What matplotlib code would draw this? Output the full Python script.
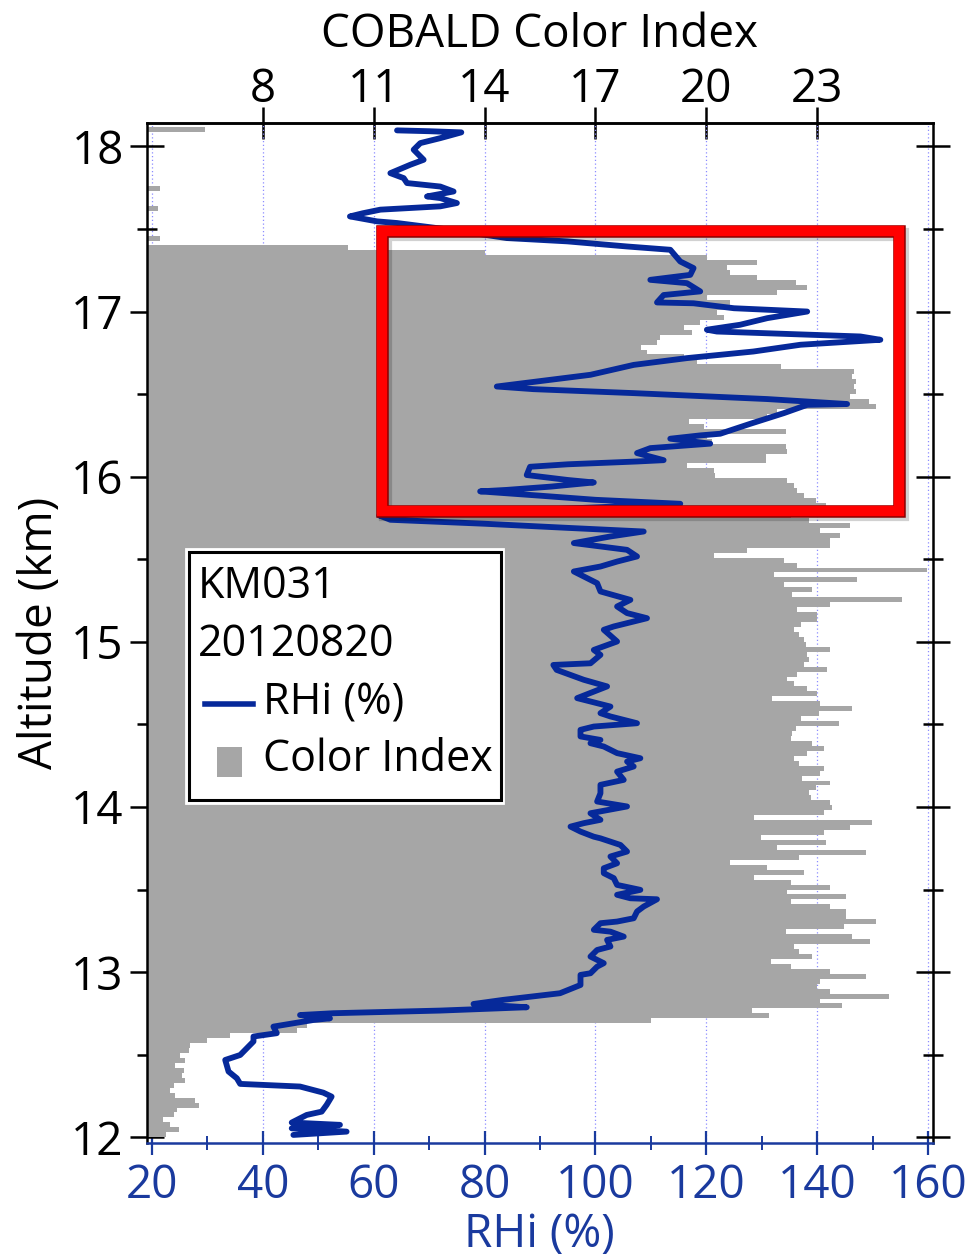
import numpy as np
import matplotlib
matplotlib.use('Agg')
import matplotlib.pyplot as plt
from matplotlib.patches import Rectangle
from matplotlib.lines import Line2D
import matplotlib.patheffects as pe

plt.rcParams['font.family'] = ['Open Sans', 'DejaVu Sans']

# COBALD colour index, 30 m bins starting at 12.00 km (nan = no bar)
ci_alt = np.round(np.arange(12.0, 18.1, 0.03), 2)
ci_val = np.array([
    5.39, 5.72, 5.48, 5.30, 5.59, 5.68, 6.26, 6.17, 5.63, 5.48,
    5.59, 5.90, 5.81, 5.86, 5.63, 5.90, 5.75, 5.99, 6.04, 6.49,
    7.12, 8.92, 9.19, 18.5, 21.70, 21.23, 23.68, 23.09, 24.94, 23.36,
    23.0, 23.09, 24.31, 23.36, 22.28, 21.74, 22.87, 22.51, 22.37, 24.44,
    23.95, 22.15, 23.72, 24.58, 23.77, 23.77, 23.36, 22.28, 23.77, 22.19,
    23.36, 22.28, 21.28, 22.64, 21.65, 20.65, 22.51, 24.31, 21.92, 23.23,
    21.47, 23.18, 23.9, 24.49, 21.28, 23.18, 23.41, 23.36, 22.82, 22.78,
    22.96, 23.36, 22.60, 23.09, 23.18, 22.51, 22.37, 22.73, 23.18, 22.87,
    22.28, 22.33, 22.42, 23.59, 22.55, 23.05, 23.95, 23.09, 21.79, 23.0,
    22.73, 22.37, 22.19, 22.46, 23.27, 22.64, 22.78, 22.73, 23.36, 22.69,
    22.64, 22.51, 22.37, 22.55, 23.0, 23.0, 22.46, 23.36, 25.30, 22.33,
    22.87, 22.1, 24.08, 21.83, 25.97, 22.46, 22.1, 20.20, 21.10, 23.36,
    23.36, 23.63, 23.09, 23.9, 22.78, 22.28, 23.0, 23.23, 22.96, 22.64,
    22.46, 22.37, 22.19, 20.24, 20.20, 19.48, 21.61, 21.61, 22.19, 22.15,
    20.15, 20.02, 22.15, 19.93, 19.52, 21.65, 21.92, 24.58, 24.40, 23.9,
    24.04, 23.99, 24.04, 23.95, 23.99, 22.01, 19.75, 19.39, 18.40, 18.22,
    18.67, 18.76, 19.61, 19.39, 19.84, 20.47, 20.29, 20.65, 20.65, 20.02,
    21.92, 22.73, 22.42, 21.38, 20.65, 20.56, 21.38, 20.02, 14.0, 10.3,
    np.nan, 5.21, np.nan, np.nan, np.nan, np.nan, np.nan, 5.17, np.nan, np.nan,
    np.nan, 5.21, np.nan, np.nan, np.nan, np.nan, np.nan, np.nan, np.nan, np.nan,
    np.nan, np.nan, np.nan, 6.44])

# RHi profile (%), ordered along the ascent
rhi = [45.5, 55.1, 45.2, 53.9, 45.2, 47.9, 50.6, 51.5, 52.4, 50.9,
       46.7, 35.9, 35.3, 33.8, 33.2, 35.0, 35.9, 38.3, 38.3, 42.5,
       41.9, 45.5, 49.1, 52.1, 46.7, 52.7, 72.0, 87.6, 78.0, 83.4, 93.6,
       97.3, 97.3, 99.1, 100.3, 101.5, 99.1, 100.3, 102.7, 102.1, 105.1,
       102.7, 99.7, 100.9, 103.9, 106.9, 107.5, 108.7, 111.1, 106.3, 103.9,
       108.1, 103.9, 103.3, 101.5, 101.5, 103.9, 102.7, 105.7, 104.5, 100.9,
       99.7, 97.3, 95.5, 97.9, 100.9, 99.1, 105.7,
       100.3, 100.9, 100.9, 105.1, 103.9, 106.9, 105.7, 108.1, 103.9, 101.5,
       99.1, 100.9, 97.3, 97.3, 99.7, 107.5, 102.7, 100.9, 102.7, 96.7,
       102.1, 97.9, 93.0, 92.4, 99.1, 100.9, 99.7, 103.9, 101.5, 103.3,
       109.3, 105.7, 103.9, 106.3, 100.9, 100.3, 96.1, 100.9, 103.9, 107.5,
       105.7, 96.1, 102.7, 108.7, 95.0, 80.0, 63.0, 61.0, 90.0,
       115.3, 100.0, 90.0, 79.2, 84.0, 92.0, 99.7, 95.0, 87.6, 88.2,
       95.0, 107.5, 112.3, 107.5, 109.9, 120.7, 113.5, 118.9, 122.5, 127.9,
       134.0, 138.2, 145.4, 131.0, 106.9, 88.8, 82.2, 99.1, 106.9, 116.5,
       128.5, 137.0, 151.4, 147.8, 121.9, 120.1, 126.1, 131.0, 138.2, 125.0,
       117.7, 111.1, 112.3, 118.9, 116.5, 109.9, 117.1, 117.7, 115.3, 113.5,
       105.7, 94.9, 84.0, 75.0, 64.2, 60.6, 55.7,
       58.0, 61.2, 72.0, 75.0, 72.0, 69.6, 74.4, 72.0, 66.0, 65.4,
       63.0, 66.6, 69.0, 67.2, 68.4, 72.0, 75.8, 70.0, 64.2]
alt = [12.014, 12.034, 12.054, 12.075, 12.089, 12.135, 12.155, 12.196, 12.246, 12.27,
       12.307, 12.323, 12.357, 12.398, 12.468, 12.488, 12.498, 12.58, 12.61, 12.63,
       12.67, 12.69, 12.71, 12.72, 12.74, 12.751, 12.767, 12.787, 12.807, 12.832, 12.872,
       12.922, 12.983, 12.993, 13.033, 13.054, 13.094, 13.134, 13.155, 13.195, 13.215,
       13.245, 13.256, 13.296, 13.306, 13.326, 13.367, 13.397, 13.441, 13.447, 13.468,
       13.498, 13.528, 13.569, 13.599, 13.629, 13.659, 13.70, 13.73, 13.77, 13.81,
       13.82, 13.851, 13.881, 13.902, 13.922, 13.962, 14.003,
       14.033, 14.083, 14.134, 14.164, 14.214, 14.245, 14.275, 14.295, 14.326, 14.366,
       14.386, 14.406, 14.427, 14.467, 14.487, 14.507, 14.548, 14.568, 14.608, 14.659,
       14.73, 14.77, 14.83, 14.86, 14.87, 14.921, 14.951, 15.002, 15.073, 15.093,
       15.143, 15.174, 15.214, 15.254, 15.305, 15.355, 15.426, 15.456, 15.486, 15.517,
       15.557, 15.598, 15.638, 15.668, 15.69, 15.715, 15.739, 15.765, 15.80,
       15.836, 15.86, 15.885, 15.911, 15.92, 15.94, 15.965, 15.98, 16.01, 16.06,
       16.075, 16.092, 16.10, 16.143, 16.173, 16.20, 16.23, 16.25, 16.26, 16.32,
       16.385, 16.435, 16.44, 16.47, 16.506, 16.53, 16.546, 16.617, 16.677, 16.718,
       16.758, 16.799, 16.829, 16.849, 16.879, 16.89, 16.92, 16.96, 17.0, 17.02,
       17.05, 17.055, 17.1, 17.122, 17.172, 17.192, 17.222, 17.263, 17.303, 17.374,
       17.394, 17.425, 17.445, 17.49, 17.536, 17.546, 17.576,
       17.595, 17.617, 17.637, 17.657, 17.687, 17.697, 17.727, 17.757, 17.778, 17.808,
       17.838, 17.889, 17.919, 17.98, 18.02, 18.05, 18.085, 18.092, 18.097]

legend_lines = ['KM031', '20120820']

blue = '#06299a'
tick_blue = '#1a3a9e'
grey = '#a6a6a6'


def rhi_to_ci(r):
    return 8 + (np.asarray(r) - 40) * 0.15


def ci_to_rhi(c):
    return 40 + (np.asarray(c) - 8) / 0.15


fig = plt.figure(figsize=(9.73, 12.58), dpi=100)
ax = fig.add_axes([0.1508, 0.0914, 0.8081, 0.8106])
x0 = 19.04
ax.set_xlim(x0, 160.9)
ax.set_ylim(11.965, 18.14)

# grey colour index bars, drawn in RHi units through the CI <-> RHi mapping
ok = ~np.isnan(ci_val)
ax.barh(ci_alt[ok], ci_to_rhi(ci_val[ok]) - x0, height=0.03, left=x0,
        align='edge', color=grey, linewidth=0, zorder=1)

ax.set_axisbelow(True)
ax.grid(axis='x', color='#8c8cff', linestyle=(0, (1, 2)), linewidth=0.9)

ax.plot(rhi, alt, color=blue, lw=4.2, solid_joinstyle='round',
        solid_capstyle='round', zorder=3)

# red highlight box (outline only, with a soft drop shadow)
box = Rectangle((61.5, 15.793), 154.8 - 61.5, 17.485 - 15.793, fill=False,
                edgecolor='#ff0000', lw=7.5, zorder=5,
                path_effects=[pe.SimpleLineShadow(offset=(2, -2), shadow_color='k',
                                                  alpha=0.18, linewidth=9.5),
                              pe.Stroke(linewidth=9.0, foreground='#8a0000'), pe.Normal()])
ax.add_patch(box)

# axes styling
for s in ['left', 'right', 'top']:
    ax.spines[s].set_linewidth(1.8)
ax.spines['bottom'].set_color(tick_blue)
ax.spines['bottom'].set_linewidth(1.8)

ax.set_xticks(np.arange(20, 161, 20))
ax.set_xticks(np.arange(30, 151, 20), minor=True)
ax.tick_params(axis='x', which='major', direction='inout', length=17, width=1.6,
               colors=tick_blue, labelsize=33, pad=6, top=False)
ax.tick_params(axis='x', which='minor', direction='inout', length=10, width=1.4,
               colors=tick_blue, top=False)
ax.set_xlabel('RHi (%)', fontsize=33, color=tick_blue, labelpad=2)

ax.set_yticks(np.arange(12, 19, 1))
ax.set_yticks(np.arange(12.5, 18, 1), minor=True)
ax.tick_params(axis='y', which='major', direction='inout', length=25, width=1.8,
               labelsize=33, pad=4, right=True)
ax.tick_params(axis='y', which='minor', direction='inout', length=14, width=1.8, right=True)
ax.set_ylabel('Altitude (km)', fontsize=33, labelpad=6)

secax = ax.secondary_xaxis('top', functions=(rhi_to_ci, ci_to_rhi))
secax.set_xticks([8, 11, 14, 17, 20, 23])
secax.tick_params(direction='inout', length=23, width=1.8, labelsize=33, pad=-4)
secax.spines['top'].set_linewidth(1.8)
secax.set_xlabel('COBALD Color Index', fontsize=33, labelpad=14)

# legend box
ax.add_patch(Rectangle((0.0505, 0.3335), 0.4032, 0.249, transform=ax.transAxes,
                       facecolor='white', edgecolor='white', lw=2, zorder=6))
ax.add_patch(Rectangle((0.0538, 0.3364), 0.3968, 0.2432, transform=ax.transAxes,
                       facecolor='white', edgecolor='black', lw=2.2, zorder=7))
ax.text(0.0653, 0.5453, legend_lines[0], transform=ax.transAxes, fontsize=31,
        va='center', ha='left', zorder=8)
ax.text(0.0653, 0.4884, legend_lines[1], transform=ax.transAxes, fontsize=31,
        va='center', ha='left', zorder=8)
ax.add_line(Line2D([0.0741, 0.1356], [0.4305, 0.4305], transform=ax.transAxes,
                   color=blue, lw=4, zorder=8))
ax.text(0.1483, 0.4315, 'RHi (%)', transform=ax.transAxes, fontsize=31,
        va='center', ha='left', zorder=8)
ax.add_patch(Rectangle((0.0898, 0.3589), 0.0318, 0.0291, transform=ax.transAxes,
                       facecolor=grey, edgecolor='none', zorder=8))
ax.text(0.1483, 0.3756, 'Color Index', transform=ax.transAxes, fontsize=31,
        va='center', ha='left', zorder=8)

fig.savefig('out.png', dpi=100)
